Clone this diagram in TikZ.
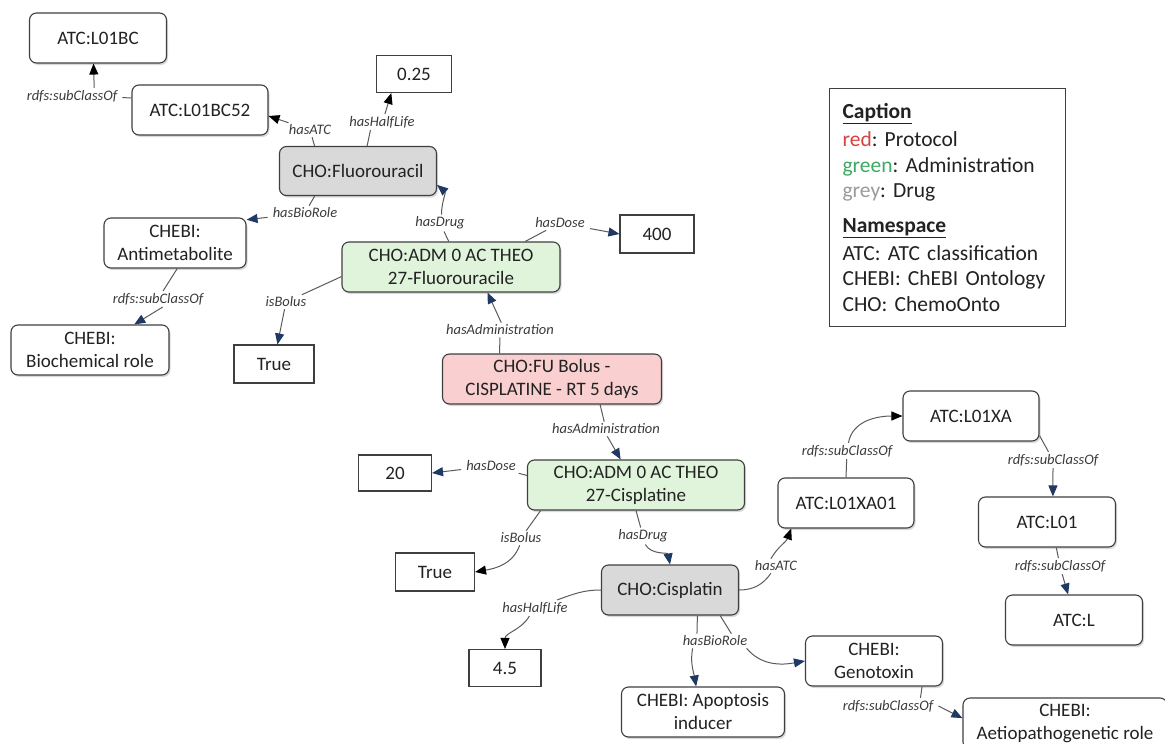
\documentclass[tikz,border=0pt]{standalone}
\usepackage{fontspec}
\setmainfont{Carlito}
\usetikzlibrary{arrows.meta,shadows}
\definecolor{boxline}{HTML}{3F3F3F}
\definecolor{linkgrey}{HTML}{5A5A5A}
\definecolor{navy}{HTML}{1F3864}
\definecolor{txt}{HTML}{222222}
\definecolor{labtxt}{HTML}{3A3A3A}
\definecolor{drugfill}{HTML}{D9D9D9}
\definecolor{admfill}{HTML}{E0F4DC}
\definecolor{protfill}{HTML}{F9CFCF}
\definecolor{capred}{HTML}{D8423F}
\definecolor{capgreen}{HTML}{3DAA62}
\definecolor{capgrey}{HTML}{9A9A9A}
\newcommand\bxfont{\fontsize{19}{23}\selectfont\frenchspacing}
\newcommand\lbfont{\fontsize{14.5}{16}\selectfont\itshape}
\newcommand\cpfont{\fontsize{21.5}{25.5}\selectfont\frenchspacing}
\tikzset{
  box/.style={draw=boxline, line width=1.1pt, rounded corners=7pt, fill=white, text=txt,
    font=\bxfont, align=center, inner sep=0pt, minimum width=136pt, minimum height=50pt,
    drop shadow={shadow xshift=1.5pt, shadow yshift=-2pt, opacity=.3}},
  drug/.style={box, fill=drugfill},
  adm/.style={box, fill=admfill},
  prot/.style={box, fill=protfill},
  val/.style={draw=boxline, line width=1.1pt, fill=white, text=txt, font=\bxfont,
    inner sep=0pt, minimum height=37pt},
  lab/.style={font=\lbfont, text=labtxt, inner xsep=5pt, inner ysep=2pt},
  link/.style={draw=linkgrey, line width=1pt},
  navytip/.style={-{Triangle[length=11pt,width=9pt,color=navy]}},
  blacktip/.style={-{Triangle[length=11pt,width=9pt,color=black]}},
  capbox/.style={draw=boxline, line width=1.2pt, fill=white, text=txt, font=\cpfont,
    align=left, text width=210pt, inner xsep=13pt, minimum height=238pt}
}
\begin{document}
\begin{tikzpicture}[x=1pt,y=1pt]
\useasboundingbox (0,0) rectangle (1165,-744);
\node[box,minimum width=137pt] (L01BC) at (98,-38) {ATC:L01BC};
\node[box] (L01BC52) at (200,-110) {ATC:L01BC52};
\node[val,minimum width=75pt] (v025) at (414,-74) {0.25};
\node[drug,minimum width=157pt,minimum height=49pt] (Flu) at (358,-171) {CHO:Fluorouracil};
\node[box,minimum width=142pt] (Antimet) at (175,-243) {CHEBI:\\Antimetabolite};
\node[box,minimum width=158pt] (Biochem) at (90,-350) {CHEBI:\\Biochemical role};
\node[val,minimum width=80pt,minimum height=38pt] (TrueA) at (274,-364) {True};
\node[adm,minimum width=218pt] (Adm1) at (451,-267) {CHO:ADM 0 AC THEO\\27-Fluorouracile};
\node[val,minimum width=74pt,minimum height=38pt] (v400) at (657,-234) {400};
\node[prot,minimum width=219pt] (Prot) at (552,-379) {CHO:FU Bolus -\\CISPLATINE - RT 5 days};
\node[val,minimum width=73pt,minimum height=36pt] (v20) at (395,-473) {20};
\node[adm,minimum width=217pt] (Adm2) at (636,-485) {CHO:ADM 0 AC THEO\\27-Cisplatine};
\node[val,minimum width=79pt,minimum height=38pt] (TrueB) at (435,-572) {True};
\node[drug,minimum width=137pt] (Cis) at (670,-590) {CHO:Cisplatin};
\node[val,minimum width=72pt] (v45) at (505,-668) {4.5};
\node[box,minimum width=163pt] (Apop) at (703,-712) {CHEBI: Apoptosis\\inducer};
\node[box,minimum width=137pt] (Geno) at (874,-661) {CHEBI:\\Genotoxin};
\node[box] (L01XA01) at (846,-503) {ATC:L01XA01};
\node[box] (L01XA) at (971,-416) {ATC:L01XA};
\node[box,minimum width=137pt] (L01) at (1047,-522) {ATC:L01};
\node[box,minimum width=137pt] (ATCL) at (1074,-620) {ATC:L};
\node[box,minimum width=204pt,minimum height=51pt] (Aetio) at (1065,-723.5) {CHEBI:\\Aetiopathogenetic role};

\node[lab] (l1) at (72,-96) {rdfs:subClassOf};
\node[lab] (latc1) at (310,-130) {hasATC};
\node[lab] (lhl1) at (382,-122) {hasHalfLife};
\node[lab] (lbr1) at (305,-213) {hasBioRole};
\node[lab] (lsub1) at (158,-299) {rdfs:subClassOf};
\node[lab] (ldrug1) at (440,-223) {hasDrug};
\node[lab] (ldose1) at (560,-223) {hasDose};
\node[lab] (lbol1) at (286,-302) {isBolus};
\node[lab] (ladm1) at (500,-330) {hasAdministration};
\node[lab] (ladm2) at (606,-429) {hasAdministration};
\node[lab] (ldose2) at (491,-466) {hasDose};
\node[lab] (lbol2) at (521,-538) {isBolus};
\node[lab] (ldrug2) at (643,-536) {hasDrug};
\node[lab] (lhl2) at (535,-608) {hasHalfLife};
\node[lab] (lbr2) at (715,-641) {hasBioRole};
\node[lab] (latc2) at (776,-566) {hasATC};
\node[lab] (lsub2) at (847,-451) {rdfs:subClassOf};
\node[lab] (lsub3) at (1053,-460) {rdfs:subClassOf};
\node[lab] (lsub4) at (1060,-566) {rdfs:subClassOf};
\node[lab] (lsub5) at (888,-706) {rdfs:subClassOf};

\draw[link] (L01BC52.170) -- (l1);
\draw[link,blacktip] (l1.20) -- (L01BC.-100);
\draw[link] (Flu.150) -- (latc1);
\draw[link,blacktip] (latc1) -- (L01BC52.-5);
\draw[link] (Flu.70) -- (lhl1.215);
\draw[link,blacktip] (lhl1.70) -- (v025.220);
\draw[link] (Flu.-150) -- (lbr1);
\draw[link,navytip] (lbr1) -- (Antimet.18);
\draw[link] (Antimet.-85) -- (lsub1);
\draw[link,navytip] (lsub1.-60) -- (Biochem.30);
\draw[link] (Adm1.95) -- (ldrug1);
\draw[link,navytip] (ldrug1.80) to[out=90,in=-40] (Flu.-10);
\draw[link] (Adm1.19) -- (ldose1);
\draw[link,navytip] (ldose1) -- (v400.west);
\draw[link] (Adm1.185) -- (lbol1);
\draw[link,navytip] (lbol1) -- (TrueA.80);
\draw[link] (Prot.154) -- (ladm1);
\draw[link,navytip] (ladm1.80) -- (Adm1.-35);
\draw[link] (Prot.-28) -- (ladm2);
\draw[link,navytip] (ladm2.-80) -- (Adm2.121);
\draw[link] (Adm2.175) -- (ldose2);
\draw[link,navytip] (ldose2) -- (v20.east);
\draw[link] (Adm2.195) -- (lbol2);
\draw[link,blacktip] (lbol2.-100) to[out=-110,in=10] (TrueB.east);
\draw[link] (Adm2.south) -- (ldrug2);
\draw[link,navytip] (ldrug2.-75) to[out=-60,in=100] (Cis.north);
\draw[link] (Cis.west) to[out=180,in=20] (lhl2.20);
\draw[link,blacktip] (lhl2.-125) to[out=-120,in=90] (v45.north);
\draw[link] (Cis.-43) -- (lbr2.158);
\draw[link] (Cis.-27) -- (lbr2.24);
\draw[link,navytip] (lbr2.-162) to[out=-100,in=100] (Apop.105);
\draw[link,navytip] (lbr2.-13) to[out=-50,in=190] (Geno.west);
\draw[link] (Cis.east) to[out=0,in=-125] (latc2.-125);
\draw[link,blacktip] (latc2.125) to[out=60,in=-110] (L01XA01.-155);
\draw[link] (L01XA01.north) -- (lsub2);
\draw[link,blacktip] (lsub2.80) to[out=80,in=180] (L01XA.west);
\draw[link] (L01XA.-16) -- (lsub3);
\draw[link,navytip] (lsub3.south) -- (L01.77);
\draw[link] (L01.-70) -- (lsub4);
\draw[link,navytip] (lsub4.-75) -- (ATCL.103);
\draw[link] (Geno.-28) -- (lsub5.14);
\draw[link,navytip] (lsub5.east) -- (Aetio.177);

\node[capbox,anchor=north west] (cap) at (829,-88) {\underline{\textbf{Caption}}\\[2.5pt]
\textcolor{capred}{red}: Protocol\\
\textcolor{capgreen}{green}: Administration\\
\textcolor{capgrey}{grey}: Drug\\[9pt]
\underline{\textbf{Namespace}}\\[2.5pt]
ATC: ATC classification\\
CHEBI: ChEBI Ontology\\
CHO: ChemoOnto};
\end{tikzpicture}
\end{document}
